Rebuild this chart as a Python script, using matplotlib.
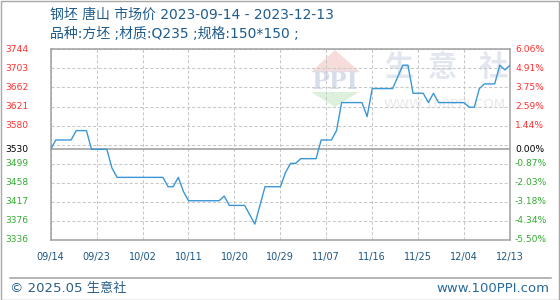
import numpy as np
import pandas as pd
import matplotlib
matplotlib.use("Agg")
from matplotlib import pyplot as plt
from matplotlib import transforms as mtransforms
from matplotlib.patches import Polygon, Rectangle
from matplotlib.lines import Line2D

# Datos (钢坯 唐山 市场价)
dates = [
    "2023-09-14", "2023-09-15", "2023-09-18", "2023-09-19", "2023-09-21",
    "2023-09-22", "2023-09-25", "2023-09-26", "2023-09-27", "2023-10-06",
    "2023-10-07", "2023-10-08", "2023-10-09", "2023-10-10", "2023-10-11",
    "2023-10-17", "2023-10-18", "2023-10-19", "2023-10-22", "2023-10-23",
    "2023-10-24", "2023-10-25", "2023-10-26", "2023-10-29", "2023-10-30",
    "2023-10-31", "2023-11-01", "2023-11-02", "2023-11-05", "2023-11-06",
    "2023-11-08", "2023-11-09", "2023-11-10", "2023-11-14", "2023-11-15",
    "2023-11-16", "2023-11-20", "2023-11-21", "2023-11-22", "2023-11-23",
    "2023-11-24", "2023-11-26", "2023-11-27", "2023-11-28", "2023-11-29",
    "2023-12-04", "2023-12-05", "2023-12-06", "2023-12-07", "2023-12-08",
    "2023-12-10", "2023-12-11", "2023-12-12", "2023-12-13",
]
prices = [
    3530, 3550, 3550, 3570, 3570,
    3530, 3530, 3490, 3470, 3470,
    3450, 3450, 3470, 3440, 3420,
    3420, 3430, 3410, 3410, 3390,
    3370, 3410, 3450, 3450, 3480,
    3500, 3500, 3510, 3510, 3550,
    3550, 3570, 3630, 3630, 3600,
    3660, 3660, 3685, 3710, 3710,
    3650, 3650, 3630, 3650, 3630,
    3630, 3620, 3620, 3660, 3670,
    3670, 3710, 3700, 3710,
]
base_price = 3530
y_min, y_max = 3336, 3744
left_labels = ["3336", "3376", "3417", "3458", "3499", "3530",
               "3580", "3621", "3662", "3703", "3744"]
right_labels = ["-5.50%", "-4.34%", "-3.18%", "-2.03%", "-0.87%", "0.00%",
                "1.44%", "2.59%", "3.75%", "4.91%", "6.06%"]

W, H = 560, 300
fig = plt.figure(figsize=(W / 100, H / 100), dpi=100)


def fx(px):
    return px / W


def fy(py):
    return 1 - py / H


# borde exterior
fig.add_artist(Rectangle((0.5 / W, 0.5 / H), (W - 1.5) / W, (H - 1.5) / H,
                         transform=fig.transFigure, fill=False,
                         edgecolor="#a8a8a8", lw=1.0))

ax = fig.add_axes([fx(50.7), fy(240), fx(510) - fx(50.7), fy(49.3) - fy(240)])
ax.set_facecolor("none")

# marca de agua
wm = dict(transform=fig.transFigure, zorder=0)
ax.add_patch(Polygon([(fx(311), fy(72)), (fx(335), fy(50)), (fx(360), fy(72))],
                     closed=True, facecolor="#f7dcdc", edgecolor="none", **wm))
ax.add_patch(Polygon([(fx(311), fy(92)), (fx(359), fy(92)), (fx(335), fy(107))],
                     closed=True, facecolor="#dcf0dc", edgecolor="none", **wm))
ax.text(fx(335), fy(82), "PPI", ha="center", va="center", fontsize=17,
        family="DejaVu Serif", fontweight="bold", color="#d6deec", **wm)
for cx, ch in zip([399, 442, 493], "生意社"):
    ax.text(fx(cx), fy(67), ch, ha="center", va="center", fontsize=21,
            family=["Noto Sans CJK SC"], fontweight="bold", color="#e2e6ef", **wm)
ax.text(fx(445), fy(105), "WWW.100PPI.COM", ha="center", va="center",
        fontsize=9.5, color="#e9e9e9", **wm)

x = pd.to_datetime(dates)
ax.plot(x, prices, color="#3a97d6", lw=1.0, zorder=3)

x_ticks = pd.date_range("2023-09-14", "2023-12-13", freq="9D")
ax.set_xlim(x_ticks[0], x_ticks[-1])
ax.set_ylim(y_min, y_max)
ax.set_xticks(x_ticks)
ax.set_xticklabels(x_ticks.strftime("%m/%d"), fontsize=7, color="#1b5686")
grid_pos = np.linspace(y_min, y_max, len(left_labels))
ax.set_yticks(grid_pos)
ax.tick_params(axis="x", length=0, pad=8.5)
ax.tick_params(axis="y", left=False, labelleft=False)
ax.grid(True, color="#c8c8c8", lw=0.75, ls=(0, (3, 2)), zorder=1)
ax.axhline(base_price, color="#9a9a9a", lw=1.1, zorder=2)
for s in ax.spines.values():
    s.set_color("#a0a0a0")
    s.set_linewidth(1.1)

# etiquetas eje y (izquierda precio, derecha porcentaje)
trans_l = mtransforms.blended_transform_factory(fig.transFigure, ax.transData)
for i, (pos, ll, rl) in enumerate(zip(grid_pos, left_labels, right_labels)):
    if i == 5:
        pos = base_price
        col = "black"
    elif i > 5:
        col = "#ff3030"
    else:
        col = "#33aa33"
    fig.text(fx(5), pos, ll, transform=trans_l, ha="left", va="center",
             fontsize=6.6, color=col)
    fig.text(fx(515), pos, rl, transform=trans_l, ha="left", va="center",
             fontsize=6.6, color=col)

# titulos
fam = ["DejaVu Sans", "Noto Sans CJK SC"]
fig.text(fx(50), fy(15), "钢坯 唐山 市场价 2023-09-14 - 2023-12-13",
         family=fam, fontsize=10, color="#1f5b8b", va="center")
fig.text(fx(50), fy(33.5), "品种:方坯 ;材质:Q235 ;规格:150*150 ;",
         family=fam, fontsize=10, color="#1f5b8b", va="center")

# pie de pagina
fig.add_artist(Line2D([fx(10), fx(551)], [fy(277.5), fy(277.5)],
                      transform=fig.transFigure, color="#a0a0a0", lw=1.1))
fig.text(fx(10.5), fy(288.5), "© 2025.05 生意社", family=fam, fontsize=9.5,
         color="#2b5e8a", va="center")
fig.text(fx(549), fy(288.5), "www.100PPI.com", family=fam, fontsize=9.5,
         color="#2a6b9c", va="center", ha="right")

fig.savefig("out.png", dpi=100)
